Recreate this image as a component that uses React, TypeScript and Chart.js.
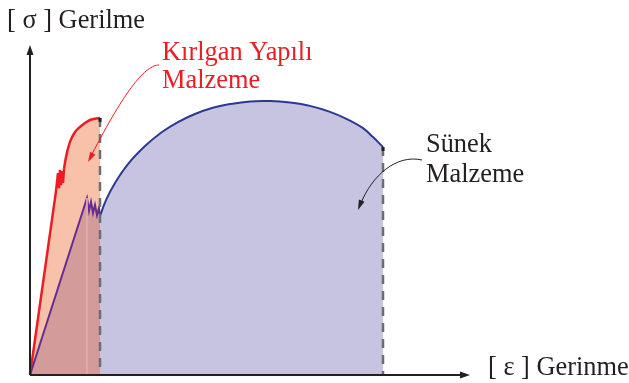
import { useEffect, useRef } from "react";
import { Chart, registerables } from "chart.js";

Chart.register(...registerables);

// Strain (x) / stress (y) in arbitrary units
const brittleElasticStrain = [0, 6.5, 7.0, 7.25, 7.5, 7.75, 8.0, 8.25, 8.5];
const brittleElasticStress = [0, 61.3, 67.3, 62.3, 68.3, 63.3, 68.0, 64.0, 68.7];
const brittleHardeningStrain = [8.5, 9.0, 10.0, 11.25, 12.5, 13.75, 15.0, 16.25, 17.5];
const brittleHardeningStress = [68.7, 72.7, 77.7, 81.0, 82.7, 84.0, 85.0, 85.4, 85.7];

const ductileElasticStrain = [0, 14.25, 14.75, 15.25, 15.75, 16.25, 16.75, 17.25, 17.5];
const ductileElasticStress = [0, 59.0, 54.7, 57.7, 54.0, 56.7, 53.3, 55.7, 53.0];
const ductilePlasticStrain = [17.5, 19.0, 21.25, 24.5, 28.75, 33.0, 37.0, 41.25, 45.5, 50.0, 55.0, 60.0, 65.0, 70.0, 75.0, 79.25, 83.25, 85.75, 88.25];
const ductilePlasticStress = [53.0, 58.3, 64.0, 70.3, 76.3, 81.0, 84.3, 87.0, 89.0, 90.3, 91.2, 91.3, 90.8, 89.7, 87.7, 85.3, 82.3, 79.3, 76.0];

const brittleFractureStrain = 17.5;
const brittleFractureStress = 85.7;
const ductileFractureStrain = 88.25;
const ductileFractureStress = 76.0;
const yieldStrain = 14.25;
const yieldStress = 59.0;

const yAxisLabel = "[ σ ] Gerilme";
const xAxisLabel = "[ ε ] Gerinme";
const brittleLabel = ["Kırlgan Yapılı", "Malzeme"];
const ductileLabel = ["Sünek", "Malzeme"];

const pts = (xs: number[], ys: number[]) => xs.map((x, i) => ({ x, y: ys[i] }));

const RED = "#ed1c24";
const SALMON = "#f8c2aa";
const ROSE = "#d49b9b";
const LAVENDER = "#c7c4e2";
const BLUE = "#2b3990";
const PURPLE = "#662d91";
const DASH = "#6d6e71";
const INK = "#231f20";
const FONT = '26.4px "Liberation Serif", "Times New Roman", serif';

function arrowHead(ctx: CanvasRenderingContext2D, x: number, y: number, ang: number, len: number, half: number) {
  ctx.save();
  ctx.translate(x, y);
  ctx.rotate(ang);
  ctx.beginPath();
  ctx.moveTo(0, 0);
  ctx.lineTo(-len, -half);
  ctx.lineTo(-len, half);
  ctx.closePath();
  ctx.fill();
  ctx.restore();
}

const decorPlugin = {
  id: "decor",
  afterDatasetsDraw(chart: any) {
    const ctx: CanvasRenderingContext2D = chart.ctx;
    const xs = chart.scales.x;
    const ys = chart.scales.y;
    const ox = xs.getPixelForValue(0);
    const oy = ys.getPixelForValue(0);
    const xEnd = xs.getPixelForValue(xs.max);
    const yEnd = ys.getPixelForValue(ys.max);
    ctx.save();

    // fracture tips
    ctx.fillStyle = INK;
    const bx = xs.getPixelForValue(brittleFractureStrain);
    const by = ys.getPixelForValue(brittleFractureStress);
    ctx.fillRect(bx - 1.5, by, 3, 4);
    const dx = xs.getPixelForValue(ductileFractureStrain);
    const dy = ys.getPixelForValue(ductileFractureStress);
    ctx.fillRect(dx - 1.5, dy, 3, 4);

    // axes with arrowheads
    ctx.strokeStyle = INK;
    ctx.fillStyle = INK;
    ctx.lineWidth = 2;
    ctx.beginPath();
    ctx.moveTo(ox, oy);
    ctx.lineTo(xEnd - 8, oy);
    ctx.moveTo(ox, oy);
    ctx.lineTo(ox, yEnd + 8);
    ctx.stroke();
    arrowHead(ctx, xEnd, oy, 0, 10, 3.5);
    arrowHead(ctx, ox, yEnd, -Math.PI / 2, 10, 3.5);

    // pointer arrows
    ctx.lineWidth = 1;
    ctx.strokeStyle = RED;
    ctx.fillStyle = RED;
    ctx.beginPath();
    ctx.moveTo(159, 65);
    ctx.bezierCurveTo(146, 65, 126, 88, 91, 156);
    ctx.stroke();
    arrowHead(ctx, 88, 162, Math.atan2(162 - 140, 88 - 100), 10, 3);

    ctx.strokeStyle = INK;
    ctx.fillStyle = INK;
    ctx.beginPath();
    ctx.moveTo(422, 160);
    ctx.bezierCurveTo(396, 154, 372, 176, 361, 203);
    ctx.stroke();
    arrowHead(ctx, 358, 210, Math.atan2(210 - 190, 358 - 366), 10, 3);

    // texts
    ctx.textBaseline = "alphabetic";
    ctx.textAlign = "left";
    ctx.font = FONT;
    ctx.fillStyle = INK;
    ctx.fillText(yAxisLabel, 7, 28);
    ctx.fillText(xAxisLabel, 488, 375);
    ctx.fillText(ductileLabel[0], 426, 152);
    ctx.fillText(ductileLabel[1], 426, 182);
    ctx.fillStyle = RED;
    ctx.fillText(brittleLabel[0], 162, 60);
    ctx.fillText(brittleLabel[1], 162, 88);
    ctx.restore();
  },
};

export default function App() {
  const ref = useRef<HTMLCanvasElement | null>(null);
  useEffect(() => {
    if (!ref.current) return;
    const chart = new Chart(ref.current, {
      type: "line",
      data: {
        datasets: [
          { data: pts([yieldStrain, yieldStrain], [yieldStress, 0]), borderColor: "#e2aca7", borderWidth: 1, pointRadius: 0, fill: false, order: 0 },
          { data: pts([brittleFractureStrain, brittleFractureStrain], [brittleFractureStress, 0]), borderColor: DASH, borderWidth: 2.5, borderDash: [9, 7], pointRadius: 0, fill: false, order: 0 },
          { data: pts([ductileFractureStrain, ductileFractureStrain], [ductileFractureStress, 0]), borderColor: DASH, borderWidth: 2.5, borderDash: [9, 7], pointRadius: 0, fill: false, order: 0 },
          { data: pts(ductileElasticStrain, ductileElasticStress), borderColor: PURPLE, backgroundColor: ROSE, borderWidth: 2, pointRadius: 0, tension: 0, fill: "origin", order: 1 },
          { data: pts(ductilePlasticStrain, ductilePlasticStress), borderColor: BLUE, backgroundColor: LAVENDER, borderWidth: 2, pointRadius: 0, tension: 0.4, fill: "origin", order: 2 },
          { data: pts(brittleElasticStrain, brittleElasticStress), borderColor: RED, backgroundColor: SALMON, borderWidth: 2.5, pointRadius: 0, tension: 0, fill: "origin", order: 3 },
          { data: pts(brittleHardeningStrain, brittleHardeningStress), borderColor: RED, backgroundColor: SALMON, borderWidth: 2.5, pointRadius: 0, cubicInterpolationMode: "monotone", fill: "origin", order: 3 },
        ],
      },
      options: {
        responsive: false,
        animation: false,
        layout: { padding: { left: 30, right: 159, top: 45, bottom: 8 } },
        scales: {
          x: { type: "linear", min: 0, max: 110, display: false },
          y: { type: "linear", min: 0, max: 110, display: false },
        },
        plugins: {
          legend: { display: false },
          tooltip: { enabled: false },
          filler: { drawTime: "beforeDatasetsDraw" },
        } as any,
      },
      plugins: [decorPlugin],
    });
    return () => chart.destroy();
  }, []);
  return (
    <div style={{ position: "absolute", left: 0, top: 0, width: 629, height: 383, background: "#fff" }}>
      <canvas ref={ref} width={629} height={383} style={{ display: "block" }} />
    </div>
  );
}
